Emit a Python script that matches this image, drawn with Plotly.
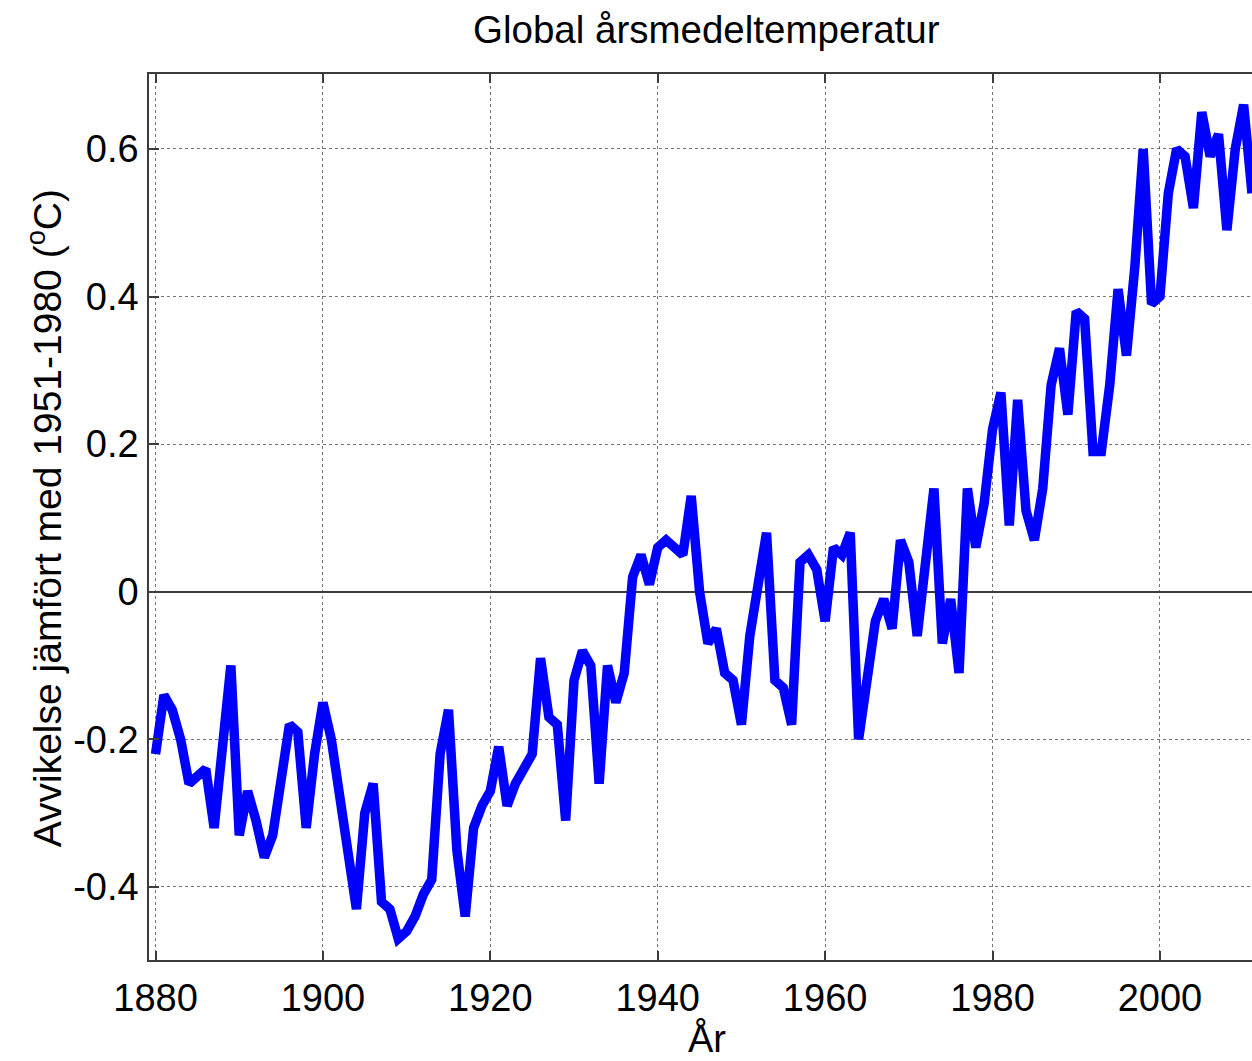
import plotly.graph_objects as go

# Global annual mean temperature anomaly relative to 1951-1980 (deg C)
years = list(range(1880, 2012))
anomaly = [
    -0.22, -0.14, -0.16, -0.20, -0.26, -0.25, -0.24, -0.32, -0.20, -0.10,  # 1880-1889
    -0.33, -0.27, -0.31, -0.36, -0.33, -0.25, -0.18, -0.19, -0.32, -0.22,  # 1890-1899
    -0.15, -0.20, -0.27, -0.34, -0.43, -0.30, -0.26, -0.42, -0.43, -0.47,  # 1900-1909
    -0.46, -0.44, -0.41, -0.39, -0.22, -0.16, -0.35, -0.44, -0.32, -0.29,  # 1910-1919
    -0.27, -0.21, -0.29, -0.26, -0.24, -0.22, -0.09, -0.17, -0.18, -0.31,  # 1920-1929
    -0.12, -0.08, -0.10, -0.26, -0.10, -0.15, -0.11, 0.02, 0.05, 0.01,     # 1930-1939
    0.06, 0.07, 0.06, 0.05, 0.13, 0.00, -0.07, -0.05, -0.11, -0.12,        # 1940-1949
    -0.18, -0.06, 0.01, 0.08, -0.12, -0.13, -0.18, 0.04, 0.05, 0.03,       # 1950-1959
    -0.04, 0.06, 0.05, 0.08, -0.20, -0.11, -0.04, -0.01, -0.05, 0.07,      # 1960-1969
    0.04, -0.06, 0.03, 0.14, -0.07, -0.01, -0.11, 0.14, 0.06, 0.12,        # 1970-1979
    0.22, 0.27, 0.09, 0.26, 0.11, 0.07, 0.14, 0.28, 0.33, 0.24,            # 1980-1989
    0.38, 0.37, 0.19, 0.19, 0.28, 0.41, 0.32, 0.44, 0.60, 0.39,            # 1990-1999
    0.40, 0.54, 0.60, 0.59, 0.52, 0.65, 0.59, 0.62, 0.49, 0.60,            # 2000-2009
    0.66, 0.54,                                                            # 2010-2011
]

x_ticks = [1880, 1900, 1920, 1940, 1960, 1980, 2000]
y_ticks = [-0.4, -0.2, 0, 0.2, 0.4, 0.6]
y_tick_text = ["-0.4", "-0.2", "0", "0.2", "0.4", "0.6"]

title_text = "Global årsmedeltemperatur"
x_title = "År"
y_title = "Avvikelse jämfört med 1951-1980 (<sup>o</sup>C)"

FONT = "Liberation Sans, Arial, Helvetica, sans-serif"
W, H = 1252, 1061
L, T, B, R = 148.5, 74, 100.5, 0
plot_h = H - T - B
plot_w = W - L - R

fig = go.Figure()
fig.add_trace(go.Scatter(
    x=years, y=anomaly, mode="lines",
    line=dict(color="#0000ff", width=9.5),
    hoverinfo="x+y", showlegend=False,
))

axis_common = dict(
    showline=True, linecolor="#3c3c3c", linewidth=1.5,
    ticks="inside", tickcolor="#3c3c3c", tickwidth=1.5,
    showgrid=True, gridcolor="rgba(60,60,60,0.7)", gridwidth=1, griddash="dot",
    tickfont=dict(family=FONT, size=38, color="#000000"),
)

fig.update_layout(
    width=W, height=H,
    margin=dict(l=L, r=R, t=T, b=B, pad=0),
    paper_bgcolor="white", plot_bgcolor="white",
    xaxis=dict(
        axis_common, range=[1879.22, 2011.0], tickvals=x_ticks, ticklen=9,
        mirror="ticks", zeroline=False, ticklabelstandoff=4,
    ),
    yaxis=dict(
        axis_common, range=[-0.499, 0.7016], tickvals=y_ticks, ticktext=y_tick_text,
        ticklen=10, zeroline=True, zerolinecolor="#3c3c3c", zerolinewidth=1.5,
        ticklabelstandoff=1,
    ),
    annotations=[
        dict(text=title_text, xref="paper", yref="paper",
             x=(706.5 - L) / plot_w, y=(H - B - 29) / plot_h,
             xanchor="center", yanchor="middle", showarrow=False,
             font=dict(family=FONT, size=38.5, color="#000000")),
        dict(text=x_title, xref="paper", yref="paper",
             x=(707 - L) / plot_w, y=(H - B - 1039) / plot_h,
             xanchor="center", yanchor="middle", showarrow=False,
             font=dict(family=FONT, size=38, color="#000000")),
        dict(text=y_title, xref="paper", yref="paper", textangle=-90,
             x=(44 - L) / plot_w, y=(H - B - 519) / plot_h,
             xanchor="center", yanchor="middle", showarrow=False,
             font=dict(family=FONT, size=39, color="#000000")),
    ],
)

fig.write_html("out.html", config={"displayModeBar": False})
